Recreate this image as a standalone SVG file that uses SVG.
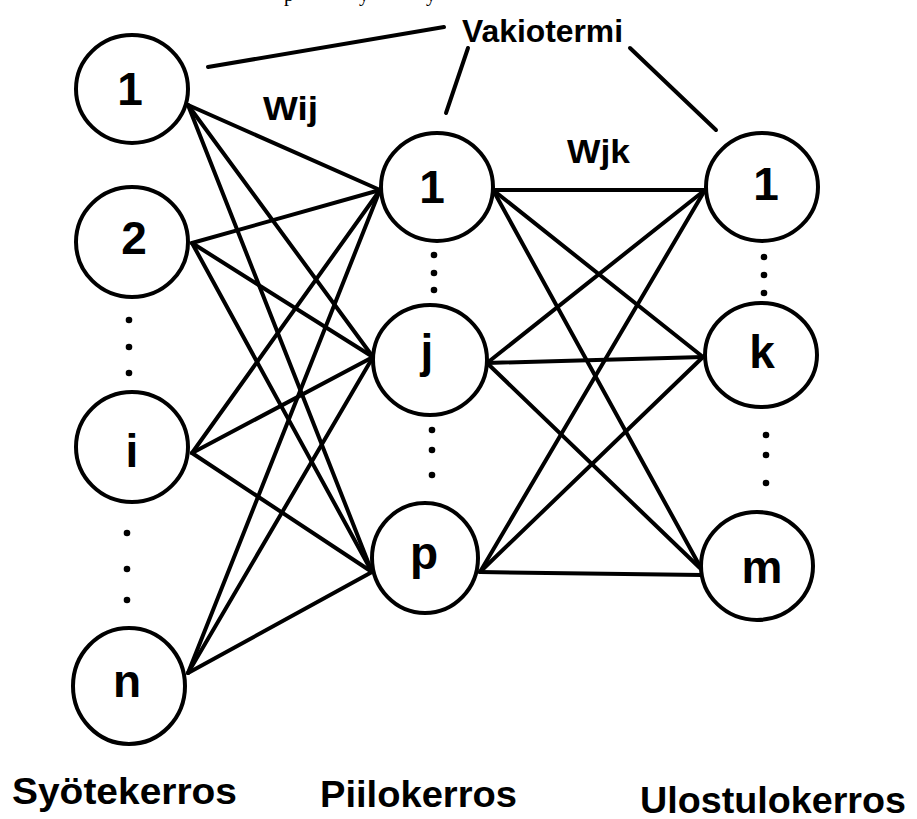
<svg xmlns="http://www.w3.org/2000/svg" width="917" height="819" viewBox="0 0 917 819">
  <style>
    .edge { stroke: #000; stroke-width: 4; stroke-linecap: round; fill: none; }
    .node ellipse { fill: #fff; stroke: #000; stroke-width: 4; }
    .lbl { font-family: "Liberation Sans", Arial, sans-serif; font-weight: bold; fill: #000; }
    .nlbl { font-size: 46px; text-anchor: middle; }
    .wt { font-size: 34px; }
    .layer { font-size: 36px; }
    .dot { fill: #000; }
    .serif { font-family: "Liberation Serif", "Times New Roman", serif; font-size: 20px; fill: #000; }
  </style>
  <rect width="917" height="819" fill="#fff"/>

  <!-- descenders of the preceding text line, clipped by the top edge -->
  <g id="prev-line">
    <text class="serif" x="284" y="0.5">p</text>
    <text class="serif" x="359" y="0.5">y</text>
    <text class="serif" x="426" y="0.5">y</text>
  </g>

  <g id="connectors">
    <!-- input layer -> hidden layer -->
    <line class="edge" x1="188" y1="105" x2="380" y2="190"/>
    <line class="edge" x1="188" y1="105" x2="373" y2="357"/>
    <line class="edge" x1="188" y1="105" x2="372" y2="572"/>
    <line class="edge" x1="192" y1="243" x2="380" y2="190"/>
    <line class="edge" x1="192" y1="243" x2="373" y2="357"/>
    <line class="edge" x1="192" y1="243" x2="372" y2="572"/>
    <line class="edge" x1="192" y1="453" x2="380" y2="190"/>
    <line class="edge" x1="192" y1="453" x2="373" y2="357"/>
    <line class="edge" x1="192" y1="453" x2="372" y2="572"/>
    <line class="edge" x1="188" y1="673" x2="380" y2="190"/>
    <line class="edge" x1="188" y1="673" x2="373" y2="357"/>
    <line class="edge" x1="188" y1="673" x2="372" y2="572"/>
    <!-- hidden layer -> output layer -->
    <line class="edge" x1="493" y1="190" x2="705" y2="190"/>
    <line class="edge" x1="493" y1="190" x2="703" y2="357"/>
    <line class="edge" x1="493" y1="190" x2="702" y2="570"/>
    <line class="edge" x1="487" y1="363" x2="705" y2="190"/>
    <line class="edge" x1="487" y1="363" x2="703" y2="357"/>
    <line class="edge" x1="487" y1="363" x2="702" y2="570"/>
    <line class="edge" x1="480" y1="572" x2="705" y2="190"/>
    <line class="edge" x1="480" y1="572" x2="703" y2="357"/>
    <line class="edge" x1="480" y1="572" x2="702" y2="575"/>
    <!-- bias (Vakiotermi) pointers -->
    <line class="edge" x1="208" y1="67" x2="444" y2="27"/>
    <line class="edge" x1="468" y1="48" x2="446" y2="113"/>
    <line class="edge" x1="630" y1="48" x2="716" y2="130"/>
  </g>

  <!-- input layer -->
  <g id="in-1" class="node"><ellipse cx="132" cy="89" rx="56" ry="54"/><text class="lbl nlbl" x="130" y="105">1</text></g>
  <g id="in-2" class="node"><ellipse cx="132" cy="242" rx="56" ry="55"/><text class="lbl nlbl" x="134" y="254">2</text></g>
  <g id="in-i" class="node"><ellipse cx="132" cy="447" rx="56" ry="55"/><text class="lbl nlbl" x="132" y="467">i</text></g>
  <g id="in-n" class="node"><ellipse cx="129" cy="686" rx="56" ry="58"/><text class="lbl nlbl" x="127" y="697">n</text></g>

  <!-- hidden layer -->
  <g id="hid-1" class="node"><ellipse cx="437" cy="187" rx="56" ry="54"/><text class="lbl nlbl" x="432" y="203">1</text></g>
  <g id="hid-j" class="node"><ellipse cx="430" cy="360" rx="57" ry="55"/><text class="lbl nlbl" x="427" y="367">j</text></g>
  <g id="hid-p" class="node"><ellipse cx="425" cy="558" rx="53" ry="55"/><text class="lbl nlbl" x="424" y="569">p</text></g>

  <!-- output layer -->
  <g id="out-1" class="node"><ellipse cx="762" cy="187" rx="56" ry="54"/><text class="lbl nlbl" x="766" y="200">1</text></g>
  <g id="out-k" class="node"><ellipse cx="761" cy="355" rx="56" ry="52"/><text class="lbl nlbl" x="762" y="368">k</text></g>
  <g id="out-m" class="node"><ellipse cx="757" cy="566" rx="56" ry="54"/><text class="lbl nlbl" x="762" y="583">m</text></g>

  <!-- ellipsis dots -->
  <g id="dots">
    <circle class="dot" cx="129" cy="320" r="3.3"/>
    <circle class="dot" cx="129" cy="347" r="3.3"/>
    <circle class="dot" cx="129" cy="373" r="3.3"/>
    <circle class="dot" cx="127" cy="533" r="3.3"/>
    <circle class="dot" cx="127" cy="569" r="3.3"/>
    <circle class="dot" cx="127" cy="600" r="3.3"/>
    <circle class="dot" cx="434" cy="255" r="3.3"/>
    <circle class="dot" cx="434" cy="273" r="3.3"/>
    <circle class="dot" cx="434" cy="290" r="3.3"/>
    <circle class="dot" cx="432" cy="430" r="3.3"/>
    <circle class="dot" cx="432" cy="450" r="3.3"/>
    <circle class="dot" cx="432" cy="475" r="3.3"/>
    <circle class="dot" cx="764" cy="257" r="3.3"/>
    <circle class="dot" cx="764" cy="275" r="3.3"/>
    <circle class="dot" cx="764" cy="293" r="3.3"/>
    <circle class="dot" cx="766" cy="435" r="3.3"/>
    <circle class="dot" cx="766" cy="455" r="3.3"/>
    <circle class="dot" cx="766" cy="483" r="3.3"/>
  </g>

  <!-- weight and bias labels -->
  <g id="labels">
    <text class="lbl" x="462" y="42" font-size="32" textLength="161" lengthAdjust="spacingAndGlyphs">Vakiotermi</text>
    <text class="lbl wt" x="263" y="120" textLength="55" lengthAdjust="spacingAndGlyphs">Wij</text>
    <text class="lbl wt" x="567" y="163" textLength="63" lengthAdjust="spacingAndGlyphs">Wjk</text>
  </g>

  <!-- layer names -->
  <g id="layer-names">
    <text class="lbl layer" x="12" y="804" textLength="225" lengthAdjust="spacingAndGlyphs">Syötekerros</text>
    <text class="lbl layer" x="320" y="807" textLength="197" lengthAdjust="spacingAndGlyphs">Piilokerros</text>
    <text class="lbl layer" x="640" y="813" textLength="266" lengthAdjust="spacingAndGlyphs">Ulostulokerros</text>
  </g>
</svg>
